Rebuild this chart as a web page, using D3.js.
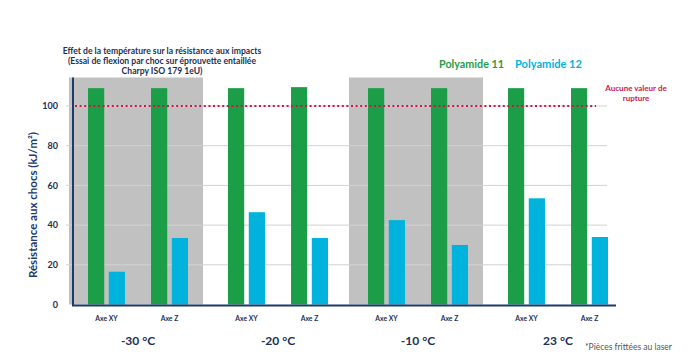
<!DOCTYPE html>
<html><head><meta charset="utf-8">
<script src="https://cdn.jsdelivr.net/npm/d3@7"></script>
<style>body{margin:0;background:#fff}svg{display:block}text{font-family:Lato,"Open Sans",sans-serif;font-weight:700}</style>
</head><body><svg id="c" width="700" height="361"></svg>
<script>
const temps = ["-30 °C","-20 °C","-10 °C","23 °C"];
const axesCat = ["Axe XY","Axe Z"];
const series = ["Polyamide 11","Polyamide 12"];
const pa11 = [109,109,109,109.5,109,109,109,109];
const pa12 = [16.5,33.5,46.5,33.5,42.5,30,53.5,34];
const shaded = ["-30 °C","-10 °C"];
const yTicks = [0,20,40,60,80,100];
const threshold = 100;
const titleLines = ["Effet de la température sur la résistance aux impacts","(Essai de flexion par choc sur éprouvette entaillée","Charpy ISO 179 1eU)"];

const colors = {"Polyamide 11":"#1c9e48","Polyamide 12":"#00b3dd"};
const navy = "#1c3a6e";
const svg = d3.select("#c");

const y = d3.scaleLinear().domain([0,100]).range([304.5,106]);
const x0 = d3.scaleBand().domain(temps).range([72,624]).paddingInner(0.057).paddingOuter(0);
const x1 = d3.scaleBand().domain(axesCat).range([0,x0.bandwidth()]).paddingInner(0.413).paddingOuter(0.254);
const x2 = d3.scaleBand().domain(series).range([0,x1.bandwidth()]).paddingInner(0.22);

const data = [];
temps.forEach((t,i)=>axesCat.forEach((a,j)=>{
  const k=i*2+j;
  data.push({t,a,s:"Polyamide 11",v:pa11[k]});
  data.push({t,a,s:"Polyamide 12",v:pa12[k]});
}));

const plotTop = 77.5;
// shaded bands
svg.selectAll("rect.bg").data(shaded).join("rect")
  .attr("x",d=>x0(d)-3).attr("width",x0.bandwidth()+2)
  .attr("y",plotTop).attr("height",y(0)-plotTop).attr("fill","#c1c1c1");

// y tick labels
svg.append("g").attr("transform","translate(73,0)")
  .call(d3.axisLeft(y).tickValues(yTicks).tickSize(0).tickPadding(15))
  .call(g=>g.select(".domain").remove())
  .call(g=>g.selectAll("text").attr("fill","#1c2f55").attr("font-size","9px").attr("font-family","Lato"));
// gridlines
svg.append("g").selectAll("line").data(yTicks.filter(d=>d>0)).join("line")
  .attr("x1",66).attr("x2",607).attr("y1",d=>y(d)).attr("y2",d=>y(d))
  .attr("stroke","#d2d2d2").attr("stroke-width",1);

// bars
svg.append("g").selectAll("rect").data(data).join("rect")
  .attr("x",d=>x0(d.t)+x1(d.a)+x2(d.s))
  .attr("width",x2.bandwidth())
  .attr("y",d=>y(d.v)).attr("height",d=>y(0)-y(d.v))
  .attr("fill",d=>colors[d.s]);

// threshold line
svg.append("line").attr("x1",75).attr("x2",596).attr("y1",y(threshold)).attr("y2",y(threshold))
  .attr("stroke","#d21548").attr("stroke-width",2).attr("stroke-dasharray","2,2.6");

// axes lines
svg.append("line").attr("x1",73).attr("x2",73).attr("y1",plotTop).attr("y2",y(0)+1).attr("stroke",navy).attr("stroke-width",2);
svg.append("line").attr("x1",72).attr("x2",616).attr("y1",y(0)+1).attr("y2",y(0)+1).attr("stroke",navy).attr("stroke-width",2);

// x labels
const xl = svg.append("g");
data.filter(d=>d.s==="Polyamide 11").forEach(d=>{
  xl.append("text").attr("x",x0(d.t)+x1(d.a)+x1.bandwidth()/2).attr("y",320.5)
    .attr("text-anchor","middle").attr("font-size","6.8px").attr("fill","#1c2f55").text(d.a);
});
svg.append("g").selectAll("text").data(temps).join("text")
  .attr("x",d=>x0(d)+x0.bandwidth()/2).attr("y",344.5).attr("text-anchor","middle")
  .attr("font-size","12px").attr("fill","#1c2f55").text(d=>d);

// y title
svg.append("text").attr("transform","translate(37,205) rotate(-90)").attr("text-anchor","middle")
  .attr("font-size","11.5px").attr("fill",navy).text("Résistance aux chocs (kJ/m²)");

// title
svg.append("g").selectAll("text").data(titleLines).join("text")
  .attr("x",162).attr("y",(d,i)=>53.5+i*10.3).attr("text-anchor","middle")
  .attr("font-size","8.6px").attr("fill","#1c2f55").text(d=>d);

// legend
svg.append("text").attr("x",439).attr("y",67.5).attr("font-size","12px").attr("textLength",65).attr("lengthAdjust","spacingAndGlyphs").attr("fill",colors["Polyamide 11"]).text(series[0]);
svg.append("text").attr("x",515).attr("y",67.5).attr("font-size","12px").attr("textLength",67).attr("lengthAdjust","spacingAndGlyphs").attr("fill",colors["Polyamide 12"]).text(series[1]);

// annotation
svg.append("text").attr("x",636).attr("y",90.5).attr("text-anchor","middle").attr("font-size","8px").attr("fill","#cf1651").text("Aucune valeur de");
svg.append("text").attr("x",636).attr("y",100.5).attr("text-anchor","middle").attr("font-size","8px").attr("fill","#cf1651").text("rupture");

// footnote
svg.append("text").attr("x",585).attr("y",350).attr("font-size","8.5px").attr("fill","#555").style("font-weight","400").text("*Pièces frittées au laser");
</script></body></html>
